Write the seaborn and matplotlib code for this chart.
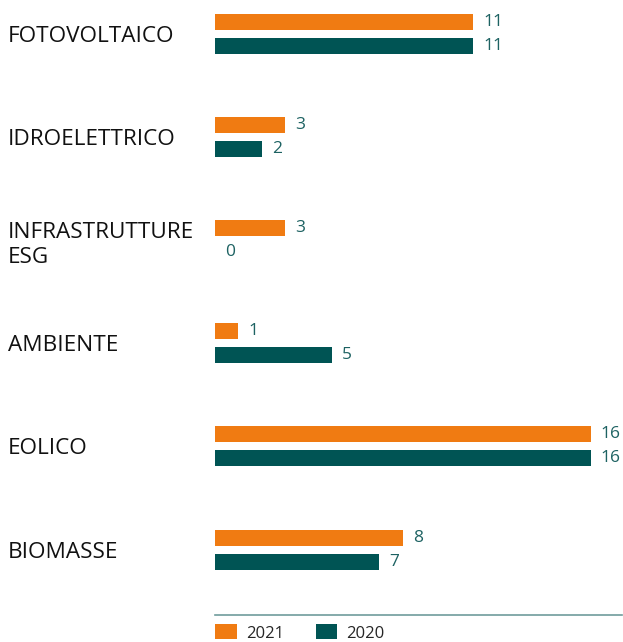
import matplotlib
matplotlib.use("Agg")
import matplotlib.pyplot as plt
import seaborn as sns
import pandas as pd

categories = ["FOTOVOLTAICO", "IDROELETTRICO", "INFRASTRUTTURE\nESG", "AMBIENTE", "EOLICO", "BIOMASSE"]
values_2021 = [11, 3, 3, 1, 16, 8]
values_2020 = [11, 2, 0, 5, 16, 7]
years = ["2021", "2020"]
colors = ["#F07B12", "#005454"]

df = pd.DataFrame({
    "cat": categories * 2,
    "year": [years[0]] * len(categories) + [years[1]] * len(categories),
    "value": values_2021 + values_2020,
})

sns.set_theme(style="white")
plt.rcParams["font.family"] = ["Open Sans", "DejaVu Sans"]

W, H = 623, 642
fig = plt.figure(figsize=(W / 100, H / 100), dpi=100)
ax = fig.add_axes([215 / W, 1 - 615 / H, (622 - 215) / W, 615 / H])

sns.barplot(data=df, y="cat", x="value", hue="year", hue_order=years,
            order=categories, palette=colors, saturation=1, orient="h",
            width=0.466, gap=0.335, linewidth=0, ax=ax, legend=True)

for cont in ax.containers:
    ax.bar_label(cont, padding=7, color="#1d6262", fontsize=12.5)

handles, labels = ax.get_legend_handles_labels()
ax.get_legend().remove()

ax.set_xlim(0, 17.32)
ax.set_ylim(5.635, -0.33)
ax.set_xlabel("")
ax.set_ylabel("")
ax.set_xticks([])
for s in ["top", "right", "left"]:
    ax.spines[s].set_visible(False)
ax.spines["bottom"].set_color("#6f9c9c")
ax.spines["bottom"].set_linewidth(1.2)

ax.tick_params(axis="y", length=0, pad=(215 - 8) * 0.72, labelsize=16.2, labelcolor="#111111")
for lab in ax.get_yticklabels():
    lab.set_horizontalalignment("left")
    lab.set_linespacing(1.25)

fig.legend(handles, labels, loc="center left",
           bbox_to_anchor=(215 / W, 1 - 633 / H), ncol=2, frameon=False,
           fontsize=12, handlelength=1.3, handleheight=1.0,
           handletextpad=0.55, columnspacing=1.9, borderpad=0, borderaxespad=0)

fig.savefig("out.png", dpi=100)
